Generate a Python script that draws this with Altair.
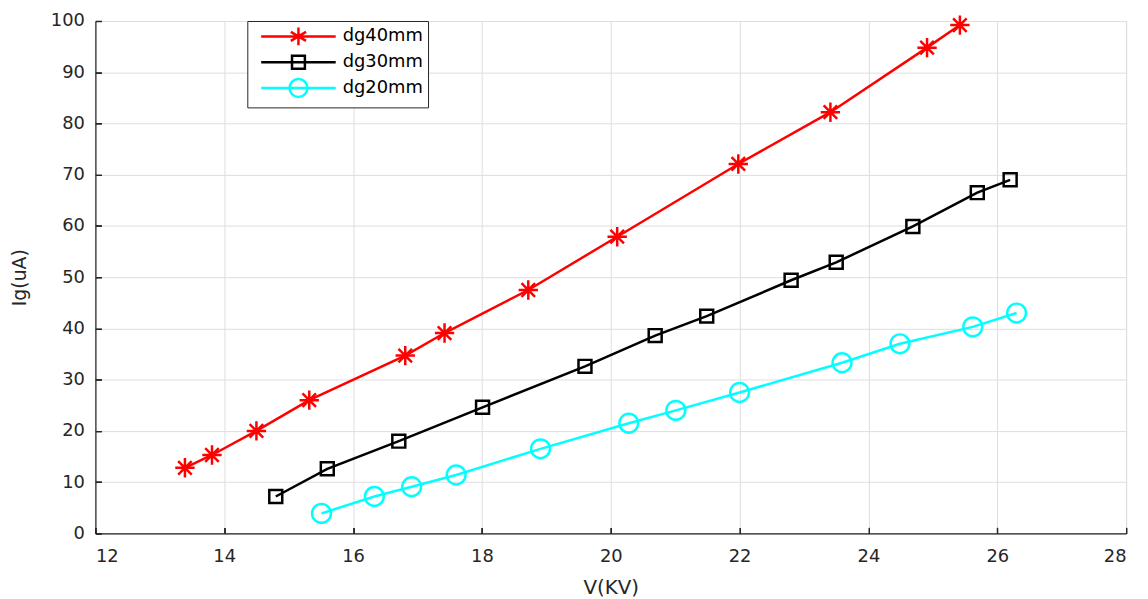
import altair as alt
import pandas as pd

series_names = ["dg40mm", "dg30mm", "dg20mm"]

v40 = [13.39, 13.81, 14.50, 15.32, 16.81, 17.42, 18.72, 20.10, 21.98, 23.41, 24.91, 25.42]
i40 = [12.8, 15.3, 20.0, 26.0, 34.7, 39.1, 47.5, 57.9, 72.1, 82.2, 94.8, 99.2]

v30 = [14.80, 15.60, 16.71, 18.01, 19.60, 20.69, 21.49, 22.80, 23.50, 24.69, 25.69, 26.20]
i30 = [7.2, 12.6, 18.0, 24.6, 32.6, 38.6, 42.4, 49.4, 52.9, 59.9, 66.5, 69.0]

v20 = [15.51, 16.33, 16.91, 17.60, 18.91, 20.28, 21.01, 22.00, 23.59, 24.49, 25.62, 26.30]
i20 = [3.9, 7.2, 9.1, 11.4, 16.5, 21.5, 24.0, 27.5, 33.3, 37.0, 40.3, 43.0]

x_ticks = [12, 14, 16, 18, 20, 22, 24, 26, 28]
y_ticks = [0, 10, 20, 30, 40, 50, 60, 70, 80, 90, 100]

colors = ["#ff0000", "#000000", "#00ffff"]

asterisk = "M-1,0L1,0M0,-1L0,1M-0.7,-0.7L0.7,0.7M-0.7,0.7L0.7,-0.7"
data_shapes = [asterisk, "square", "circle"]
data_sizes = [380, 170, 360]

# legend symbols: a line segment with the marker in the middle (unit r = 9px)
legend_shapes = [
    "M-4.17,0L4.17,0M0,-1L0,1M-0.85,-0.5L0.85,0.5M-0.85,0.5L0.85,-0.5",
    "M-4.17,0L4.17,0M-0.72,-0.72L0.72,-0.72L0.72,0.72L-0.72,0.72Z",
    "M-4.17,0L4.17,0M-1,0A1,1 0 1,0 1,0A1,1 0 1,0 -1,0Z",
]

rows = []
for name, xs, ys in zip(series_names, [v40, v30, v20], [i40, i30, i20]):
    for x, y in zip(xs, ys):
        rows.append({"series": name, "V": x, "I": y})
df = pd.DataFrame(rows)

x_scale = alt.Scale(domain=[12, 28], nice=False, zero=False)
y_scale = alt.Scale(domain=[0, 100], nice=False, zero=False)
color_scale = alt.Scale(domain=series_names, range=colors)

WIDE = "DejaVu Sans, Liberation Sans, sans-serif"
AX = "#262626"

legend = alt.Legend(
    orient="none",
    legendX=153,
    legendY=0,
    title=None,
    strokeColor="#262626",
    fillColor="white",
    padding=5,
    symbolSize=324,
    symbolStrokeWidth=2.5,
    symbolFillColor="transparent",
    symbolOffset=36,
    labelFont=WIDE,
    labelFontSize=18,
    labelColor="#000000",
    labelOffset=34,
    rowPadding=0,
)

x_main = alt.Axis(
    values=x_ticks, ticks=False, grid=True, gridColor="#dedede", gridWidth=1,
    domainColor=AX, domainWidth=1.2, labelFont=WIDE, labelFontSize=18,
    labelColor=AX, labelPadding=14, title="V(KV)", titleFont=WIDE,
    titleFontSize=20, titleFontWeight="normal", titleColor=AX, titlePadding=13,
)
y_main = alt.Axis(
    values=y_ticks, ticks=False, grid=True, gridColor="#dedede", gridWidth=1,
    domainColor=AX, domainWidth=1.2, labelFont=WIDE, labelFontSize=18,
    labelColor=AX, labelPadding=11, title="Ig(uA)", titleFont=WIDE,
    titleFontSize=19, titleFontWeight="normal", titleColor=AX, titlePadding=21,
)
x_ticks_axis = alt.Axis(
    orient="top", offset=-516, values=x_ticks, labels=False, domain=False,
    grid=False, ticks=True, tickSize=6, tickColor=AX, tickWidth=1.2, title=None,
)
y_ticks_axis = alt.Axis(
    orient="right", offset=-1038, values=y_ticks, labels=False, domain=False,
    grid=False, ticks=True, tickSize=6, tickColor=AX, tickWidth=1.2, title=None,
)

lines = alt.Chart(df).mark_line(strokeWidth=2.5).encode(
    x=alt.X("V:Q", scale=x_scale, axis=x_main),
    y=alt.Y("I:Q", scale=y_scale, axis=y_main),
    color=alt.Color("series:N", scale=color_scale, legend=legend),
    detail="series:N",
)

point_layers = []
for k, name in enumerate(series_names):
    p = alt.Chart(df).transform_filter(
        alt.datum.series == name
    ).mark_point(
        filled=False, strokeWidth=2.5, opacity=1,
        shape=data_shapes[k], size=data_sizes[k],
    ).encode(
        x=alt.X("V:Q", scale=x_scale, axis=x_ticks_axis),
        y=alt.Y("I:Q", scale=y_scale, axis=y_ticks_axis),
        color=alt.Color("series:N", scale=color_scale, legend=legend),
    )
    point_layers.append(p)

legend_layer = alt.Chart(df).transform_filter("false").mark_point(
    filled=False, strokeWidth=2.5, opacity=1
).encode(
    color=alt.Color("series:N", scale=color_scale, legend=legend),
    shape=alt.Shape("series:N", scale=alt.Scale(domain=series_names, range=legend_shapes), legend=legend),
)

chart = alt.layer(lines, *point_layers, legend_layer).resolve_axis(
    x="independent", y="independent"
).properties(
    width=1038,
    height=516,
    padding={"left": 88, "top": 11, "right": 14, "bottom": 64},
    autosize=alt.AutoSizeParams(type="none"),
).configure_view(stroke=None).configure(background="white")

chart.save("out.html", embed_options={"renderer": "svg", "actions": False})
